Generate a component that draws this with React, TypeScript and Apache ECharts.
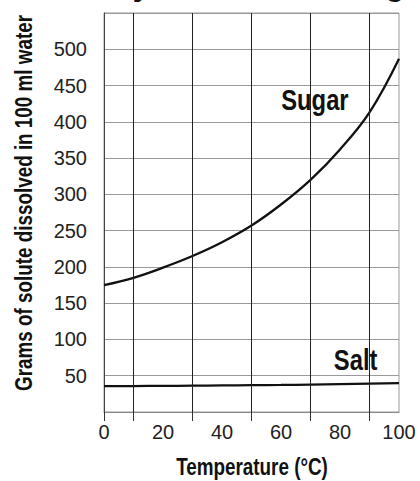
import React, { useEffect, useRef } from "react";
import * as echarts from "echarts";

const temps = [0, 10, 20, 30, 40, 50, 60, 70, 80, 90, 100];
const sugar = [175, 185, 199, 215, 234, 257, 286, 320, 362, 413, 487];
const salt = [35.7, 35.8, 36, 36.3, 36.6, 37, 37.3, 37.8, 38.4, 39, 39.8];
const xLabels = [0, 20, 40, 60, 80, 100];
const xTickValues = [0, 10, 30, 50, 70, 90];
const darkGridTemps = [10, 30, 50, 70, 90];
const yLabels = [50, 100, 150, 200, 250, 300, 350, 400, 450, 500];
const seriesNames = ["Sugar", "Salt"];
const nameAnchors: [number, number][] = [
  [71.5, 430],
  [85.3, 72],
];

const SANS = "'Liberation Sans', Arial, sans-serif";
const NARROW_SCALE = 0.82;

export default function App() {
  const ref = useRef<HTMLDivElement>(null);
  useEffect(() => {
    if (!ref.current) return;
    const chart = echarts.init(ref.current, undefined, { renderer: "svg" });
    chart.setOption({
      animation: false,
      backgroundColor: "#fff",
      grid: {
        left: 104,
        right: 21,
        top: 13,
        bottom: 69,
        containLabel: false,
        outerBoundsMode: "none",
        show: true,
        borderWidth: 1,
        borderColor: "#999",
        backgroundColor: "transparent",
      },
      xAxis: {
        type: "value",
        min: 0,
        max: 100,
        interval: 10,
        axisLine: { show: true, lineStyle: { color: "#888", width: 1 } },
        axisTick: {
          show: true,
          length: 9,
          customValues: xTickValues,
          lineStyle: { color: "#333", width: 1 },
        },
        axisLabel: {
          customValues: xLabels,
          formatter: (v: number) => (xLabels.includes(v) ? String(v) : ""),
          margin: 10,
          fontFamily: SANS,
          fontSize: 20,
          color: "#222",
        },
        splitLine: { show: true, lineStyle: { color: "#999", width: 1 } },
      },
      yAxis: {
        type: "value",
        min: 0,
        max: 550,
        interval: 50,
        axisLine: { show: true, lineStyle: { color: "#444", width: 1 } },
        axisTick: { show: false },
        axisLabel: {
          customValues: yLabels,
          formatter: (v: number) => (yLabels.includes(v) ? String(v) : ""),
          margin: 17,
          fontFamily: SANS,
          fontSize: 20,
          color: "#222",
        },
        splitLine: { show: true, lineStyle: { color: "#999", width: 1 } },
      },
      series: [
        {
          name: seriesNames[0],
          type: "line",
          data: temps.map((t, i) => [t, sugar[i]]),
          smooth: 0.4,
          showSymbol: false,
          z: 3,
          lineStyle: { color: "#111", width: 2.3 },
          markLine: {
            silent: true,
            symbol: "none",
            label: { show: false },
            lineStyle: { color: "#222", width: 1, type: "solid" },
            data: darkGridTemps.map((t) => ({ xAxis: t })),
          },
        },
        {
          name: seriesNames[1],
          type: "line",
          data: temps.map((t, i) => [t, salt[i]]),
          smooth: true,
          showSymbol: false,
          z: 3,
          lineStyle: { color: "#111", width: 2.3 },
        },
      ],
    });

    const boldText = (size: number) => ({
      fontFamily: SANS,
      fontWeight: "bold",
      fontSize: size,
      fill: "#111",
    });
    const seriesLabels = seriesNames.map((n, i) => {
      const [px, py] = chart.convertToPixel({ gridIndex: 0 }, nameAnchors[i]) as number[];
      return {
        type: "text",
        x: px,
        y: py,
        scaleX: NARROW_SCALE,
        silent: true,
        z: 10,
        style: { ...boldText(29), text: n, align: "center", verticalAlign: "middle" },
      };
    });
    chart.setOption({
      graphic: [
        {
          type: "text",
          left: 0,
          top: -41,
          scaleX: NARROW_SCALE,
          silent: true,
          style: { ...boldText(41), text: "Solubility of Salt and Sugar" },
        },
        {
          type: "text",
          x: 252,
          y: 467,
          scaleX: NARROW_SCALE,
          silent: true,
          style: { ...boldText(23), text: "Temperature (°C)", align: "center", verticalAlign: "middle" },
        },
        {
          type: "text",
          x: 24,
          y: 203,
          rotation: Math.PI / 2,
          scaleX: NARROW_SCALE,
          silent: true,
          style: {
            ...boldText(23),
            text: "Grams of solute dissolved in 100 ml water",
            align: "center",
            verticalAlign: "middle",
          },
        },
        ...seriesLabels,
      ],
    });
    return () => chart.dispose();
  }, []);
  return (
    <div
      ref={ref}
      style={{ position: "fixed", left: 0, top: 0, width: 420, height: 481, background: "#fff" }}
    />
  );
}
